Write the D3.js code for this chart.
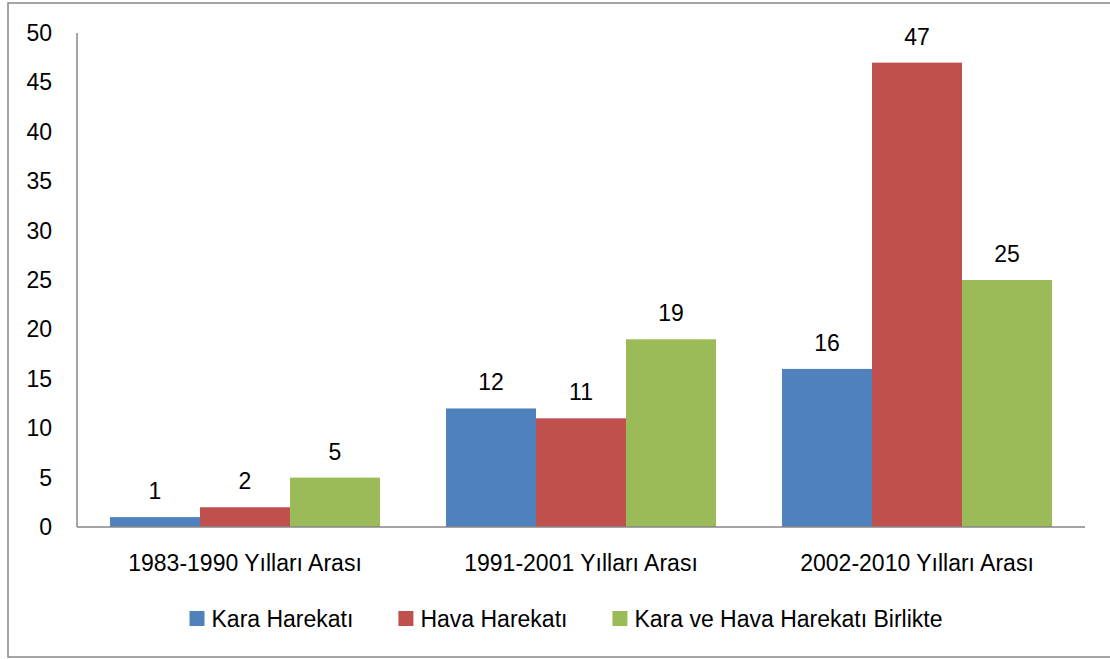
<!DOCTYPE html>
<html>
  <head>
    <meta charset="utf-8" />
    <script src="https://d3js.org/d3.v7.min.js"></script>
    <style>
      body { margin: 0; background: #fff; }
      svg text { font-family: 'Liberation Sans', Arial, sans-serif; fill: #000; }
    </style>
  </head>
  <body>
    <div id="chart"></div>
    <script>
      // data
      var categories = ['1983-1990 Yılları Arası', '1991-2001 Yılları Arası', '2002-2010 Yılları Arası'];
      var seriesNames = ['Kara Harekatı', 'Hava Harekatı', 'Kara ve Hava Harekatı Birlikte'];
      var karaValues = [1, 12, 16];
      var havaValues = [2, 11, 47];
      var birlikteValues = [5, 19, 25];
      var yTicks = [0, 5, 10, 15, 20, 25, 30, 35, 40, 45, 50];
      var colors = ['#4F81BD', '#C0504D', '#9BBB59'];

      var seriesValues = [karaValues, havaValues, birlikteValues];

      var width = 1110,
        height = 659;
      var fontSize = 23;

      var svg = d3
        .select('#chart')
        .append('svg')
        .attr('width', width)
        .attr('height', height);

      // outer frame (right side runs off the picture)
      svg
        .append('rect')
        .attr('x', 8)
        .attr('y', 3)
        .attr('width', 1140)
        .attr('height', 654)
        .attr('fill', 'none')
        .attr('stroke', '#878787')
        .attr('stroke-width', 1.5);

      var y = d3.scaleLinear().domain([0, 50]).range([527, 33]);
      var x0 = d3.scaleBand().domain(categories).range([77, 1085]);
      var x1 = d3
        .scaleBand()
        .domain(seriesNames)
        .range([33, x0.bandwidth() - 33]);

      // y tick labels
      svg
        .append('g')
        .selectAll('text')
        .data(yTicks)
        .join('text')
        .attr('x', 52)
        .attr('y', (d) => y(d))
        .attr('dy', '0.35em')
        .attr('text-anchor', 'end')
        .style('font-size', fontSize + 'px')
        .text((d) => d);

      // bars
      var groups = svg
        .append('g')
        .selectAll('g')
        .data(categories)
        .join('g')
        .attr('transform', (d) => 'translate(' + x0(d) + ',0)');

      groups.each(function (cat, ci) {
        var g = d3.select(this);
        seriesNames.forEach(function (s, si) {
          var v = seriesValues[si][ci];
          g.append('rect')
            .attr('x', x1(s))
            .attr('y', y(v))
            .attr('width', x1.bandwidth())
            .attr('height', y(0) - y(v))
            .attr('fill', colors[si]);
          g.append('text')
            .attr('x', x1(s) + x1.bandwidth() / 2)
            .attr('y', y(v) - 18)
            .attr('text-anchor', 'middle')
            .style('font-size', fontSize + 'px')
            .text(v);
        });
      });

      // axes lines
      svg
        .append('line')
        .attr('x1', 77)
        .attr('x2', 77)
        .attr('y1', y(50))
        .attr('y2', y(0))
        .attr('stroke', '#868686')
        .attr('stroke-width', 1.5);
      svg
        .append('line')
        .attr('x1', 77)
        .attr('x2', 1085)
        .attr('y1', y(0))
        .attr('y2', y(0))
        .attr('stroke', '#868686')
        .attr('stroke-width', 1.5);

      // category labels
      svg
        .append('g')
        .selectAll('text')
        .data(categories)
        .join('text')
        .attr('x', (d) => x0(d) + x0.bandwidth() / 2)
        .attr('y', 571)
        .attr('text-anchor', 'middle')
        .style('font-size', fontSize + 'px')
        .text((d) => d);

      // legend
      var legend = svg.append('g');
      var lx = 0;
      seriesNames.forEach(function (s, i) {
        legend
          .append('rect')
          .attr('x', lx)
          .attr('y', 611)
          .attr('width', 15)
          .attr('height', 15)
          .attr('fill', colors[i]);
        var t = legend
          .append('text')
          .attr('x', lx + 22)
          .attr('y', 627)
          .style('font-size', fontSize + 'px')
          .text(s);
        lx += 22 + t.node().getComputedTextLength() + 45;
      });
      var lw = lx - 45;
      legend.attr('transform', 'translate(' + (566 - lw / 2) + ',0)');
    </script>
  </body>
</html>
